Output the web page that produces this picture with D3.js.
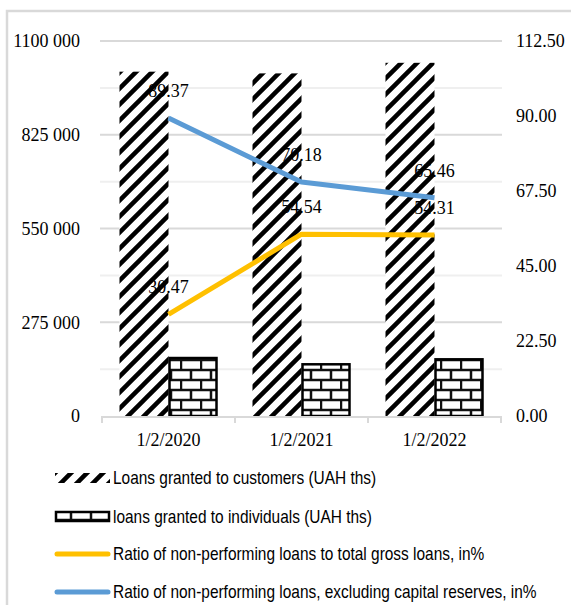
<!DOCTYPE html>
<html>
<head>
<meta charset="utf-8">
<script src="https://cdn.jsdelivr.net/npm/d3@7/dist/d3.min.js"></script>
<style>
  html, body { margin: 0; padding: 0; background: #fff; }
  svg { display: block; }
</style>
</head>
<body>
<svg id="chart" width="571" height="605"></svg>
<script>
// Reporting dates
const categories = ["1/2/2020", "1/2/2021", "1/2/2022"];

// Loan volumes, UAH thousands (left axis)
const loansToCustomers = [1010000, 1005000, 1036000];
const loansToIndividuals = [173000, 154600, 169200];

// NPL ratios, % (right axis)
const nplRatio = [30.47, 54.54, 54.31];
const nplRatioExclReserves = [89.37, 70.18, 65.46];

// Axis ticks
const leftTicks = [0, 275000, 550000, 825000, 1100000];
const leftMinorTicks = [137500, 412500, 687500, 962500];
const rightTicks = [0, 22.5, 45, 67.5, 90, 112.5];

const legendLabels = [
  "Loans granted to customers (UAH ths)",
  "loans granted to individuals (UAH ths)",
  "Ratio of non-performing loans to total gross loans, in%",
  "Ratio of non-performing loans, excluding capital reserves, in%"
];

const svg = d3.select("#chart");
const plot = { left: 102, right: 501, top: 41, bottom: 416 };
const serif = "'Liberation Serif', 'Times New Roman', serif";
const sans = "'Liberation Sans', Arial, sans-serif";
const blue = "#5b9bd5", gold = "#ffc000", gridMajor = "#d9d9d9", gridMinor = "#efefef";

// Fill patterns
const defs = svg.append("defs");
const hatch = defs.append("pattern")
  .attr("id", "hatch").attr("patternUnits", "userSpaceOnUse")
  .attr("width", 16).attr("height", 16);
hatch.append("rect").attr("width", 16).attr("height", 16).attr("fill", "#fff");
hatch.append("path")
  .attr("d", "M-2,18 L18,-2 M-6,6 L6,-6 M10,22 L22,10")
  .attr("stroke", "#000").attr("stroke-width", 4.5);

const brick = defs.append("pattern")
  .attr("id", "brick").attr("patternUnits", "userSpaceOnUse")
  .attr("width", 20).attr("height", 20);
brick.append("rect").attr("width", 20).attr("height", 20).attr("fill", "#fff");
brick.append("path")
  .attr("d", "M0,0 H20 M0,10 H20 M0,20 H20 M1,0 V10 M11,10 V20")
  .attr("stroke", "#111").attr("stroke-width", 2.5);

// Outer frame
svg.append("path")
  .attr("d", "M7,605 V11 H571")
  .attr("fill", "none").attr("stroke", "#d9d9d9").attr("stroke-width", 2.5);

// Scales
const x0 = d3.scaleBand().domain(categories).range([plot.left, plot.right]).padding(0);
const x1 = d3.scaleBand().domain(["customers", "individuals"])
  .range([0, x0.bandwidth()]).paddingInner(0).paddingOuter(0.357);
const yL = d3.scaleLinear().domain([0, 1100000]).range([plot.bottom, plot.top]);
const yR = d3.scaleLinear().domain([0, 112.5]).range([plot.bottom, plot.top]);

// Gridlines
svg.append("g").selectAll("line").data(leftMinorTicks).join("line")
  .attr("x1", plot.left - 2).attr("x2", plot.right + 1)
  .attr("y1", d => yL(d)).attr("y2", d => yL(d))
  .attr("stroke", gridMinor).attr("stroke-width", 2);
svg.append("g").selectAll("line").data(leftTicks.slice(1)).join("line")
  .attr("x1", plot.left - 2).attr("x2", plot.right + 1)
  .attr("y1", d => yL(d)).attr("y2", d => yL(d))
  .attr("stroke", gridMajor).attr("stroke-width", 2);

// Left axis labels
const fmtThousands = v => {
  if (v === 0) return "0";
  const th = Math.floor(v / 1000), rest = v % 1000;
  return th + " " + String(rest).padStart(3, "0");
};
const axisL = d3.axisLeft(yL).tickValues(leftTicks).tickFormat(fmtThousands).tickSize(0).tickPadding(22);
const gL = svg.append("g").attr("transform", `translate(${plot.left},0)`).call(axisL);
gL.select(".domain").remove();
gL.selectAll("text").attr("font-family", serif).attr("font-size", 18).attr("fill", "#000");

// Right axis labels
const axisR = d3.axisRight(yR).tickValues(rightTicks).tickFormat(d => d.toFixed(2)).tickSize(0).tickPadding(15);
const gR = svg.append("g").attr("transform", `translate(${plot.right},0)`).call(axisR);
gR.select(".domain").remove();
gR.selectAll("text").attr("font-family", serif).attr("font-size", 18).attr("fill", "#000");

// Bars
const bars = svg.append("g");
bars.selectAll("rect.cust").data(categories).join("rect")
  .attr("class", "cust")
  .attr("x", (c) => x0(c) + x1("customers"))
  .attr("width", x1.bandwidth())
  .attr("y", (c, i) => yL(loansToCustomers[i]))
  .attr("height", (c, i) => yL(0) - yL(loansToCustomers[i]))
  .attr("fill", "url(#hatch)");
bars.selectAll("rect.ind").data(categories).join("rect")
  .attr("class", "ind")
  .attr("x", (c) => x0(c) + x1("individuals") + 1)
  .attr("width", x1.bandwidth() - 2)
  .attr("y", (c, i) => yL(loansToIndividuals[i]) + 1)
  .attr("height", (c, i) => yL(0) - yL(loansToIndividuals[i]) - 1)
  .attr("fill", "url(#brick)")
  .attr("stroke", "#000").attr("stroke-width", 2.5);

// Category axis
const axisB = d3.axisBottom(x0).tickSize(0).tickPadding(16);
const gB = svg.append("g").attr("transform", `translate(0,${plot.bottom + 1})`).call(axisB);
gB.select(".domain").attr("stroke", gridMajor).attr("stroke-width", 2)
  .attr("d", `M${plot.left},6V0H${plot.right}V6`);
gB.selectAll("text").attr("font-family", serif).attr("font-size", 18).attr("fill", "#000");
gB.append("g").selectAll("line").data(categories.slice(1)).join("line")
  .attr("x1", d => x0(d)).attr("x2", d => x0(d)).attr("y1", 0).attr("y2", 6)
  .attr("stroke", gridMajor).attr("stroke-width", 2);

// Ratio lines
const cx = c => x0(c) + x0.bandwidth() / 2;
const line = d3.line().x(d => cx(d.c)).y(d => yR(d.v));
[[nplRatio, gold], [nplRatioExclReserves, blue]].forEach(([vals, col]) => {
  const pts = categories.map((c, i) => ({ c, v: vals[i] }));
  svg.append("path").datum(pts)
    .attr("d", line).attr("fill", "none")
    .attr("stroke", col).attr("stroke-width", 5)
    .attr("stroke-linejoin", "round").attr("stroke-linecap", "butt");
});

// Value labels
[nplRatio, nplRatioExclReserves].forEach(vals => {
  svg.append("g").selectAll("text").data(categories).join("text")
    .attr("x", c => cx(c))
    .attr("y", (c, i) => yR(vals[i]) - 21)
    .attr("text-anchor", "middle")
    .attr("font-family", serif).attr("font-size", 18).attr("fill", "#000")
    .text((c, i) => vals[i].toFixed(2));
});

// Legend (condensed sans text, like a narrow face)
const legendRows = [484, 523, 560, 598];
const lg = svg.append("g");
const sx0 = 55, sx1 = 110, textX = 113, textRight = 537;
legendLabels.forEach((t, i) => {
  const y = legendRows[i];
  if (i === 0) {
    lg.append("rect").attr("x", sx0).attr("y", y - 11).attr("width", sx1 - sx0).attr("height", 10)
      .attr("fill", "url(#hatch)");
  } else if (i === 1) {
    lg.append("rect").attr("x", sx0 + 1).attr("y", y - 11).attr("width", sx1 - sx0 - 2).attr("height", 9)
      .attr("fill", "url(#brick)").attr("stroke", "#000").attr("stroke-width", 2.5);
  } else {
    lg.append("line").attr("x1", sx0 + 2).attr("x2", sx1 - 2).attr("y1", y - 6).attr("y2", y - 6)
      .attr("stroke", i === 2 ? gold : blue).attr("stroke-width", 5).attr("stroke-linecap", "round");
  }
});
const legendTexts = lg.selectAll("text.lbl").data(legendLabels).join("text")
  .attr("class", "lbl")
  .attr("font-family", sans).attr("font-size", 18).attr("fill", "#000")
  .text(d => d);
const widest = d3.max(legendTexts.nodes(), n => n.getComputedTextLength());
const squeeze = (textRight - textX) / widest;
legendTexts.attr("transform", (d, i) => `translate(${textX},${legendRows[i]}) scale(${squeeze},1)`);
</script>
</body>
</html>
